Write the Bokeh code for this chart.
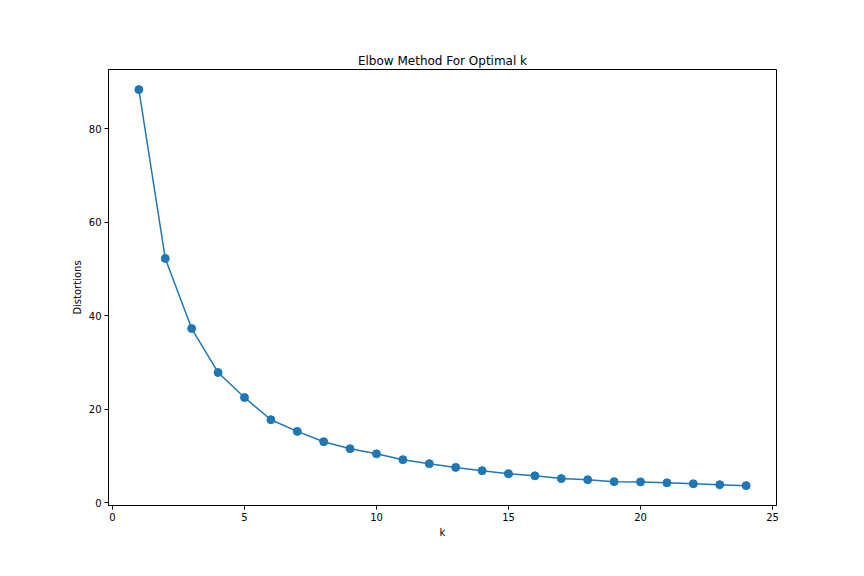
from bokeh.plotting import figure
from bokeh.embed import file_html
from bokeh.resources import INLINE
from bokeh.models import Range1d, FixedTicker

k_values = list(range(1, 25))
distortions = [88.4, 52.3, 37.3, 27.9, 22.55, 17.8, 15.3, 13.1, 11.6, 10.5,
               9.25, 8.4, 7.6, 6.9, 6.25, 5.8, 5.2, 4.97, 4.55, 4.5,
               4.3, 4.1, 3.9, 3.7]
x_ticks = [0, 5, 10, 15, 20, 25]
y_ticks = [0, 20, 40, 60, 80]

p = figure(width=848, height=560, output_backend="svg", toolbar_location=None,
           title="Elbow Method For Optimal k",
           x_range=Range1d(-0.15, 25.15), y_range=Range1d(-0.55, 92.7),
           min_border_left=108, min_border_right=72,
           min_border_top=69, min_border_bottom=55)

p.line(k_values, distortions, line_color="#1f77b4", line_width=1.5)
p.scatter(k_values, distortions, size=8, fill_color="#1f77b4", line_color="#1f77b4")

p.title.align = "center"
p.title.text_font = "DejaVu Sans"
p.title.text_font_size = "12px"
p.title.text_font_style = "normal"
p.title.text_color = "black"
p.title.standoff = 4

p.xgrid.visible = False
p.ygrid.visible = False
p.outline_line_color = "black"
p.outline_line_width = 1
p.background_fill_color = "white"
p.border_fill_color = "white"

for ax, ticks, label in [(p.xaxis[0], x_ticks, "k"), (p.yaxis[0], y_ticks, "Distortions")]:
    ax.ticker = FixedTicker(ticks=ticks)
    ax.axis_label = label
    ax.axis_label_text_font = "DejaVu Sans"
    ax.axis_label_text_font_size = "10px"
    ax.axis_label_text_font_style = "normal"
    ax.axis_label_text_color = "black"
    ax.axis_label_standoff = 3
    ax.major_label_text_font = "DejaVu Sans"
    ax.major_label_text_font_size = "10px"
    ax.major_label_text_color = "black"
    ax.major_tick_out = 4
    ax.major_tick_in = 0
    ax.minor_tick_out = 0
    ax.minor_tick_in = 0
    ax.axis_line_color = "black"
    ax.major_tick_line_color = "black"
    ax.major_label_standoff = 3

open("out.html", "w").write(file_html(p, INLINE))
